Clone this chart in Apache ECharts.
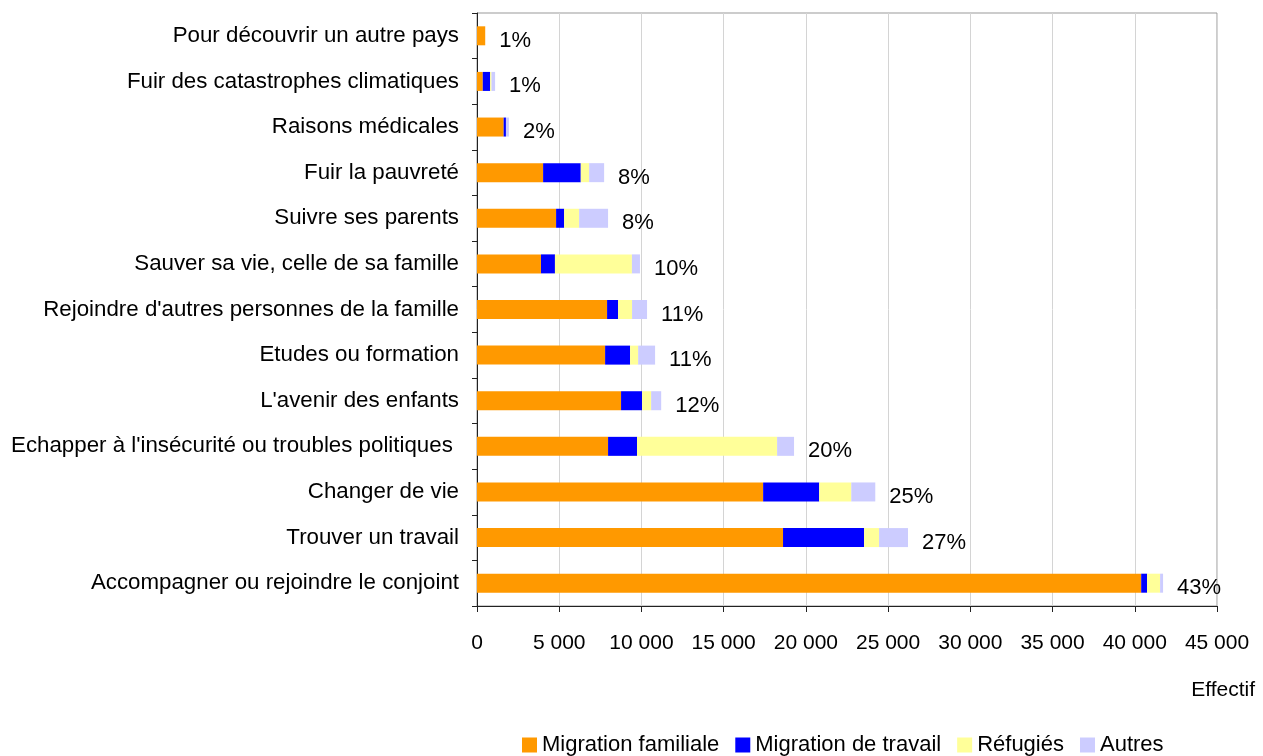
<!DOCTYPE html>
<html>
<head>
<meta charset="utf-8">
<script src="https://cdn.jsdelivr.net/npm/echarts@6/dist/echarts.min.js"></script>
<style>
  html, body { margin: 0; padding: 0; background: #fff; }
  #chart { width: 1263px; height: 756px; }
</style>
</head>
<body>
<div id="chart"></div>
<script>
const categories = [
    "Pour découvrir un autre pays",
    "Fuir des catastrophes climatiques",
    "Raisons médicales",
    "Fuir la pauvreté",
    "Suivre ses parents",
    "Sauver sa vie, celle de sa famille",
    "Rejoindre d'autres personnes de la famille",
    "Etudes ou formation",
    "L'avenir des enfants",
    "Echapper à l'insécurité ou troubles politiques ",
    "Changer de vie",
    "Trouver un travail",
    "Accompagner ou rejoindre le conjoint",
];

const familiale = [500, 350, 1620, 4020, 4810, 3890, 7910, 7790, 8760, 7970, 17400, 18610, 40390];
const travail = [0, 450, 140, 2290, 490, 850, 670, 1520, 1280, 1760, 3410, 4930, 360];
const refugies = [0, 80, 0, 510, 910, 4680, 850, 490, 550, 8520, 1950, 910, 790];
const autres = [0, 220, 180, 910, 1760, 490, 910, 1030, 610, 1030, 1460, 1760, 180];

const percents = ["1%", "1%", "2%", "8%", "8%", "10%", "11%", "11%", "12%", "20%", "25%", "27%", "43%"];

const xTicks = { min: 0, max: 45000, interval: 5000 };

const totals = categories.map((c, i) => familiale[i] + travail[i] + refugies[i] + autres[i]);

const font = "'Liberation Sans', Arial, sans-serif";

const chart = echarts.init(document.getElementById("chart"));

const stackSeries = (name, data, color) => ({
    name: name,
    type: "bar",
    stack: "total",
    data: data,
    barWidth: 19,
    itemStyle: { color: color },
});

chart.setOption({
    animation: false,
    textStyle: { fontFamily: font },
    title: {
        text: "Effectif",
        right: 3,
        top: 675,
        textStyle: { fontFamily: font, fontSize: 21, fontWeight: "normal", color: "#000" },
    },
    grid: {
        left: 477,
        right: 46,
        top: 13,
        bottom: 150,
        show: true,
        borderColor: "#999",
        borderWidth: 1,
    },
    legend: {
        data: ["Migration familiale", "Migration de travail", "Réfugiés", "Autres"],
        left: 522,
        top: 734,
        padding: 0,
        icon: "rect",
        itemWidth: 15,
        itemHeight: 15,
        itemGap: 16,
        textStyle: { fontFamily: font, fontSize: 22, color: "#000" },
    },
    xAxis: {
        type: "value",
        min: xTicks.min,
        max: xTicks.max,
        interval: xTicks.interval,
        axisLine: { show: true, lineStyle: { color: "#222", width: 1 } },
        axisTick: { show: true, length: 6, lineStyle: { color: "#222" } },
        axisLabel: {
            margin: 27,
            fontSize: 21,
            color: "#000",
            fontFamily: font,
            formatter: (v) => String(v).replace(/\B(?=(\d{3})+(?!\d))/g, " "),
        },
        splitLine: { show: true, lineStyle: { color: "#d4d4d4", width: 1 } },
    },
    yAxis: {
        type: "category",
        inverse: true,
        data: categories,
        axisLine: { show: true, lineStyle: { color: "#222", width: 1 } },
        axisTick: { show: true, length: 5, lineStyle: { color: "#222" } },
        axisLabel: { margin: 18, fontSize: 22.3, color: "#000", fontFamily: font },
    },
    series: [
        stackSeries("Migration familiale", familiale, "#FF9900"),
        stackSeries("Migration de travail", travail, "#0000FF"),
        stackSeries("Réfugiés", refugies, "#FFFF99"),
        stackSeries("Autres", autres, "#CCCCFF"),
        {
            name: "Total",
            type: "bar",
            data: totals,
            barWidth: 19,
            barGap: "-100%",
            silent: true,
            itemStyle: { color: "rgba(0,0,0,0)" },
            label: {
                show: true,
                position: "right",
                distance: 14,
                offset: [0, 5],
                fontSize: 22,
                color: "#000",
                fontFamily: font,
                formatter: (p) => percents[p.dataIndex],
            },
        },
    ],
});
</script>
</body>
</html>
